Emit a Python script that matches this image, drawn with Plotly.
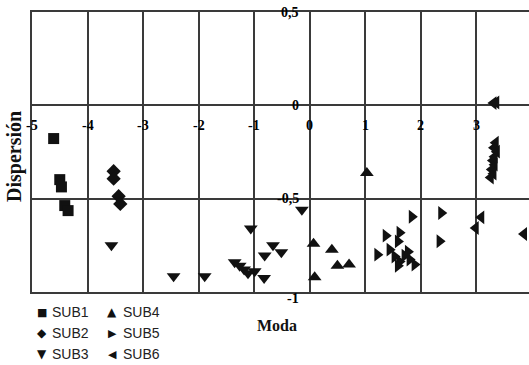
import plotly.graph_objects as go

# ---- data ----
sub1_x = [-4.61, -4.50, -4.47, -4.41, -4.35]
sub1_y = [-0.178, -0.398, -0.437, -0.537, -0.564]

sub2_x = [-3.53, -3.53, -3.44, -3.41]
sub2_y = [-0.353, -0.393, -0.487, -0.528]

sub3_x = [-3.57, -2.45, -1.89, -1.06, -1.35, -1.26, -1.18, -1.11, -0.99, -0.82, -0.81, -0.66, -0.51, -0.14]
sub3_y = [-0.75, -0.916, -0.916, -0.66, -0.84, -0.86, -0.88, -0.90, -0.889, -0.925, -0.805, -0.75, -0.787, -0.56]

sub4_x = [1.03, 0.07, 0.40, 0.50, 0.71, 0.09]
sub4_y = [-0.362, -0.742, -0.773, -0.859, -0.853, -0.921]

sub5_x = [1.84, 2.37, 2.34, 1.37, 1.62, 1.59, 1.22, 1.44, 1.53, 1.62, 1.71, 1.80, 1.89, 1.59, 1.77]
sub5_y = [-0.597, -0.577, -0.728, -0.698, -0.682, -0.729, -0.80, -0.773, -0.81, -0.837, -0.805, -0.826, -0.853, -0.86, -0.784]

sub6_x = [3.31, 3.36, 3.35, 3.32, 3.37, 3.33, 3.30, 3.33, 3.28, 3.31, 3.26, 3.09, 2.99, 3.86]
sub6_y = [0.012, 0.015, -0.20, -0.227, -0.248, -0.275, -0.296, -0.318, -0.344, -0.366, -0.387, -0.60, -0.657, -0.689]

series_names = ["SUB1", "SUB2", "SUB3", "SUB4", "SUB5", "SUB6"]
series_x = [sub1_x, sub2_x, sub3_x, sub4_x, sub5_x, sub6_x]
series_y = [sub1_y, sub2_y, sub3_y, sub4_y, sub5_y, sub6_y]
symbols = ["square", "diamond", "triangle-down", "triangle-up", "triangle-right", "triangle-left"]
legend_glyphs = ["■", "◆", "▼", "▲", "▶", "◀"]
legend_glyph_sizes = [11, 12, 12, 12, 11, 11]

x_ticks = [-5, -4, -3, -2, -1, 0, 1, 2, 3, 4]
y_ticks = [0.5, 0, -0.5, -1]
y_tick_labels = ["0,5", "0", "-0,5", "-1"]

x_title = "Moda"
y_title = "Dispersión"

ink = "#111111"
grid = "#3a3a3a"
serif = "Liberation Serif, Times New Roman, serif"
sans = "Liberation Sans, Arial, sans-serif"

W, H = 529, 365
ML, MR, MT, MB = 32, 0, 12, 73
PW, PH = W - ML - MR, H - MT - MB


def px_to_paper(px, py):
    return (px - ML) / PW, (H - MB - py) / PH


marker_sizes = {"square": 11, "diamond": 11}

fig = go.Figure()
for name, xs, ys, sym in zip(series_names, series_x, series_y, symbols):
    fig.add_trace(go.Scatter(
        x=xs, y=ys, mode="markers", name=name, showlegend=False,
        marker=dict(symbol=sym, size=marker_sizes.get(sym, 12), color=ink, line=dict(width=0)),
    ))

tick_font = dict(family=serif, size=14, color="#000", weight="bold")
annotations = []
for t in x_ticks:
    annotations.append(dict(x=t, y=0, xref="x", yref="y", text="%d" % t, showarrow=False,
                            yshift=-20, font=tick_font, xanchor="center", yanchor="middle"))
for v, lab in zip(y_ticks, y_tick_labels):
    annotations.append(dict(x=0, y=v, xref="x", yref="y", text=lab, showarrow=False,
                            xshift=-9, yshift=(-6 if v == -1 else 0),
                            font=tick_font, xanchor="right", yanchor="middle"))

# manual legend: 2 columns x 3 rows
col_glyph_px = [42, 112]
col_text_px = [50, 121]
row_py = [312, 333, 354]
for i, (name, glyph, gs) in enumerate(zip(series_names, legend_glyphs, legend_glyph_sizes)):
    c, r = i // 3, i % 3
    gx, gy = px_to_paper(col_glyph_px[c], row_py[r])
    tx, _ = px_to_paper(col_text_px[c], row_py[r])
    annotations.append(dict(x=gx, y=gy, xref="paper", yref="paper", text=glyph, showarrow=False,
                            font=dict(family="DejaVu Sans", size=gs, color=ink),
                            xanchor="center", yanchor="middle"))
    annotations.append(dict(x=tx, y=gy, xref="paper", yref="paper", text=name, showarrow=False,
                            font=dict(family=sans, size=14, color="#222"), xanchor="left", yanchor="middle"))

mx, my = px_to_paper(277, 325)
annotations.append(dict(x=mx, y=my, xref="paper", yref="paper", text=x_title,
                        showarrow=False, font=dict(family=serif, size=16, color=ink, weight="bold"),
                        xanchor="center", yanchor="middle"))
dx, dy = px_to_paper(15, 157)
annotations.append(dict(x=dx, y=dy, xref="paper", yref="paper", text=y_title,
                        showarrow=False, textangle=-90, font=dict(family=serif, size=20, color=ink, weight="bold"),
                        xanchor="center", yanchor="middle"))

fig.update_layout(
    width=W, height=H,
    margin=dict(l=ML, r=MR, t=MT, b=MB),
    paper_bgcolor="white", plot_bgcolor="white",
    showlegend=False,
    xaxis=dict(range=[-5, 3.95], dtick=1, tick0=0, showgrid=True, gridcolor=grid, gridwidth=1.5,
               zeroline=True, zerolinecolor=grid, zerolinewidth=1.5,
               showticklabels=False, ticks="", showline=True, linecolor=grid, linewidth=1.5,
               mirror=True, fixedrange=True),
    yaxis=dict(range=[-1, 0.5], dtick=0.5, tick0=0, showgrid=True, gridcolor=grid, gridwidth=1.5,
               zeroline=True, zerolinecolor=grid, zerolinewidth=1.5,
               showticklabels=False, ticks="", showline=True, linecolor=grid, linewidth=1.5,
               fixedrange=True),
    annotations=annotations,
)

fig.write_html(
    "out.html",
    config={"displayModeBar": False},
    post_script="document.body.style.margin='0';document.body.style.overflow='hidden';",
)
